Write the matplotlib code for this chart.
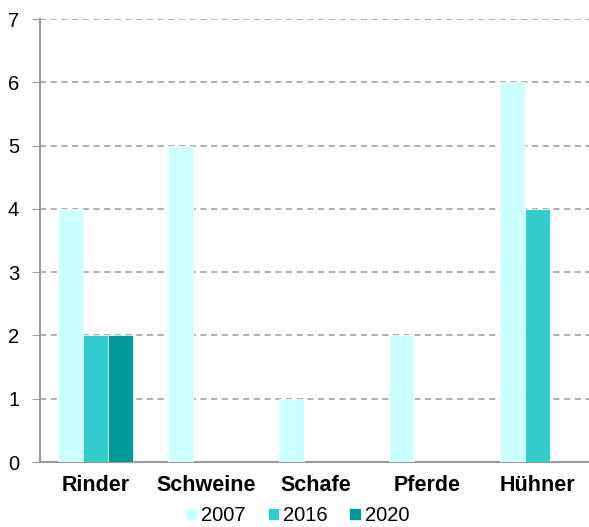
import numpy as np
import matplotlib.pyplot as plt

plt.rcParams['font.family'] = ['Liberation Sans', 'DejaVu Sans']

categories = ['Rinder', 'Schweine', 'Schafe', 'Pferde', 'Hühner']
series = ['2007', '2016', '2020']
v2007 = [4, 5, 1, 2, 6]
v2016 = [2, 0, 0, 0, 4]
v2020 = [2, 0, 0, 0, 0]
colors = ['#CCFFFF', '#33CCCC', '#009999']

fig = plt.figure(figsize=(5.89, 5.27), dpi=100)
ax = fig.add_axes([0.068, 0.1233, 0.938, 0.8406])

x = np.arange(len(categories))
w = 0.227
for i, (vals, c, lab) in enumerate(zip([v2007, v2016, v2020], colors, series)):
    ax.bar(x + (i - 1) * w, vals, w, color=c, edgecolor='white', linewidth=0.5, label=lab, zorder=3)

ax.set_xlim(-0.5, 4.5)
ax.set_ylim(0, 7)
ax.set_yticks(range(8))
ax.yaxis.grid(True, linestyle=(0, (4, 3)), color='#999999', linewidth=1.1, zorder=0)
ax.set_xticks(x)
ax.set_xticklabels(categories, fontsize=15.5, fontweight='bold')
ax.tick_params(axis='x', length=0, pad=9)
ax.tick_params(axis='y', length=6, color='#999999', labelsize=14.5, pad=9)
for s in ['top', 'right']:
    ax.spines[s].set_visible(False)
ax.spines['left'].set_color('#999999')
ax.spines['bottom'].set_color('#999999')
ax.spines['left'].set_linewidth(1.5)
ax.spines['bottom'].set_linewidth(1.5)

handles, labels = ax.get_legend_handles_labels()
fig.legend(handles, labels, loc='center', bbox_to_anchor=(0.505, 0.022), ncol=3, frameon=False,
           fontsize=14.5, handlelength=0.55, handleheight=0.55, handletextpad=0.2,
           columnspacing=1.1, borderpad=0)

fig.savefig('out.png', dpi=100)
